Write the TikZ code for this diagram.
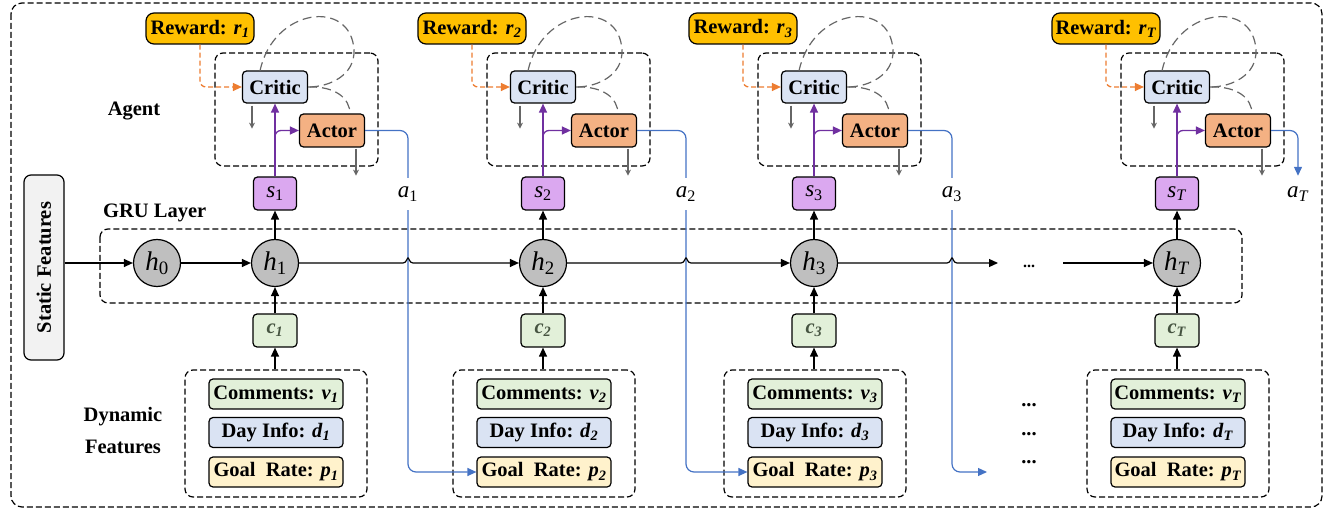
\documentclass[tikz,border=0pt]{standalone}
\usepackage{fontspec}
\setmainfont{Liberation Serif}
\usetikzlibrary{arrows.meta,calc}
\definecolor{rewc}{HTML}{FFC000}
\definecolor{critc}{HTML}{DAE3F3}
\definecolor{actc}{HTML}{F4B183}
\definecolor{sc}{HTML}{DBA8F0}
\definecolor{grc}{HTML}{E2F0D9}
\definecolor{yec}{HTML}{FFF2CC}
\definecolor{hc}{HTML}{BFBFBF}
\definecolor{stc}{HTML}{F2F2F2}
\definecolor{blc}{HTML}{4472C4}
\definecolor{puc}{HTML}{7030A0}
\definecolor{orc}{HTML}{ED7D31}
\definecolor{gyc}{HTML}{666666}
\definecolor{ctext}{HTML}{465441}
\begin{document}
\begin{tikzpicture}[x=1pt,y=-1pt,
  bf/.style={font=\bfseries\fontsize{20.5}{23}\selectfont},
  box/.style={draw, line width=1.2pt, rounded corners=4pt, inner sep=0pt, bf},
  dbox/.style={draw, line width=1.2pt, dash pattern=on 6pt off 3pt, rounded corners=8pt},
  arr/.style={line width=1.2pt, -{Triangle[length=9pt,width=8pt]}},
  parr/.style={draw=puc, line width=1.3pt, -{Triangle[length=9pt,width=8pt]}},
  oarr/.style={draw=orc, line width=1.3pt, dash pattern=on 5pt off 3pt, -{Triangle[length=9pt,width=8pt]}},
  garr/.style={draw=gyc, line width=1.2pt, -{Stealth[length=6pt,width=6pt]}},
  gloop/.style={draw=gyc, line width=1.2pt, dash pattern=on 9pt off 5pt},
  bl/.style={draw=blc, line width=1.2pt},
  blarr/.style={draw=blc, line width=1.2pt, -{Triangle[length=9pt,width=8pt]}},
  hnode/.style={circle, draw, line width=1.2pt, fill=hc, minimum size=47pt, inner sep=0pt, font=\fontsize{27}{27}\selectfont},
  alab/.style={inner sep=0pt, minimum height=32pt, font=\fontsize{23}{23}\selectfont},
  plain/.style={inner sep=0pt, bf}]
\useasboundingbox (0,0) rectangle (1336,510);
% outer frame
\draw[dbox, rounded corners=11pt] (11,3) rectangle (1322,507);
% GRU box
\draw[dbox] (100,229) rectangle (1242,303);
\node[plain, anchor=west] (grul) at (103,213) {GRU Layer};
\node[plain] (agl) at (134,111) {Agent};
\node[plain, align=center, font=\bfseries\fontsize{20.5}{32}\selectfont] (dynl) at (123,431) {Dynamic\\Features};
% static features
\node[box, fill=stc, rounded corners=7pt, minimum width=40pt, minimum height=185pt] (stat) at (44,267.5) {\rotatebox{90}{Static Features}};
% h0
\node[hnode] (h0) at (157,263) {\textit{h}\textsubscript{0}};
\foreach \i/\X/\d/\si in {1/275/-4/1, 2/543/0/2, 3/814/0/3, T/1177/0/\textit{T}} {
  \node[dbox, minimum width=163pt, minimum height=113pt] (ag\i) at (\X+\d+25.5,109.5) {};
  \node[box, fill=critc, minimum width=65pt, minimum height=32pt] (crit\i) at (\X,87) {Critic};
  \node[box, fill=actc, minimum width=65pt, minimum height=33pt] (act\i) at (\X+\d+61,130.5) {Actor};
  \node[box, fill=rewc, rounded corners=8pt, minimum width=108pt, minimum height=31pt] (rew\i) at (\X+\d-71,28.5) {Reward: \textit{r}\textsubscript{\textit{\i}}};
  \node[box, fill=sc, minimum width=43pt, minimum height=33pt, font=\fontsize{23}{23}\selectfont] (s\i) at (\X,193.5) {\textit{s}\textsubscript{\si}};
  \node[hnode] (h\i) at (\X,263) {\textit{h}\textsubscript{\si}};
  \node[box, fill=grc, minimum width=44pt, minimum height=33pt, text=ctext] (c\i) at (\X,330.5) {\textit{c}\textsubscript{\textit{\i}}};
  \node[dbox, minimum width=182pt, minimum height=127pt] (dyn\i) at (\X+1,433.5) {};
  \node[box, fill=grc, minimum width=134pt, minimum height=30pt] (com\i) at (\X+1,394) {Comments: \textit{v}\textsubscript{\textit{\i}}};
  \node[box, fill=critc, minimum width=134pt, minimum height=30pt] (day\i) at (\X+1,432.5) {Day Info: \textit{d}\textsubscript{\textit{\i}}};
  \node[box, fill=yec, minimum width=134pt, minimum height=30pt] (goal\i) at (\X+1,472) {Goal\ \ Rate: \textit{p}\textsubscript{\textit{\i}}};
  % connectors
  \draw[arr] (h\i.north) -- (s\i.south);
  \draw[arr] (c\i.north) -- (h\i.south);
  \draw[arr] (c\i.south |- dyn\i.north) -- (c\i.south);
  \draw[parr] (s\i.north) -- (crit\i.south);
  \draw[parr, rounded corners=6pt] ($(s\i.north)+(0,-35)$) |- (act\i.west);
  \draw[oarr, rounded corners=6pt] (rew\i.south) |- (crit\i.west);
  \draw[garr] ($(crit\i.south)+(-23,2)$) -- ++(0,23);
  \draw[garr] ($(act\i.south)+(24,1)$) -- ++(0,27);
  \draw[gloop] (\X-15,71) .. controls (\X-2,8) and (\X+76,-2) .. (\X+79,50)
     .. controls (\X+80,75) and (\X+55,87) .. (crit\i.east);
  \draw[gloop] (crit\i.east) .. controls (\X+60,86) and (\X+75,98) .. (\X+75,114);
}
% action labels
\node[alab] (a1) at (408,194) {\textit{a}\textsubscript{1}};
\node[alab] (a2) at (686,194) {\textit{a}\textsubscript{2}};
\node[alab] (a3) at (952,194) {\textit{a}\textsubscript{3}};
\node[alab] (aT) at (1298,194) {\textit{a}\textsubscript{\textit{T}}};
% blue action lines
\draw[bl, rounded corners=8pt] (act1.east) -| (a1.north);
\draw[bl, rounded corners=8pt] (act2.east) -| (a2.north);
\draw[bl, rounded corners=8pt] (act3.east) -| (a3.north);
\draw[blarr, rounded corners=8pt] (actT.east) -| ($(aT.north)+(0,-2)$);
\draw[blarr, rounded corners=8pt] (a1.south) |- (goal2.west);
\draw[blarr, rounded corners=8pt] (a2.south) |- (goal3.west);
\coordinate (pend) at (987,472);
\draw[blarr, rounded corners=8pt] (a3.south) |- (pend);
% GRU chain
\draw[arr] (stat.east |- h0) -- (h0.west);
\draw[arr] (h0.east) -- (h1.west);
\draw[arr] (h1.east) -- (403,263) .. controls (406.5,263) and (407,258) .. (408,258) .. controls (409,258) and (409.5,263) .. (413,263) -- (h2.west);
\draw[arr] (h2.east) -- (681,263) .. controls (684.5,263) and (685,258) .. (686,258) .. controls (687,258) and (687.5,263) .. (691,263) -- (h3.west);
\coordinate (hend) at (998,263);
\draw[arr] (h3.east) -- (947,263) .. controls (950.5,263) and (951,258) .. (952,258) .. controls (953,258) and (953.5,263) .. (957,263) -- (hend);
\node[inner sep=0pt, font=\bfseries\fontsize{16}{16}\selectfont] (hdots) at (1029,266) {...};
\coordinate (hstart) at (1063,263);
\draw[arr] (hstart) -- (hT.west);
% dots for features
\node[plain] (d1) at (1029,405) {...};
\node[plain] (d2) at (1029,434) {...};
\node[plain] (d3) at (1029,462) {...};
\end{tikzpicture}
\end{document}
